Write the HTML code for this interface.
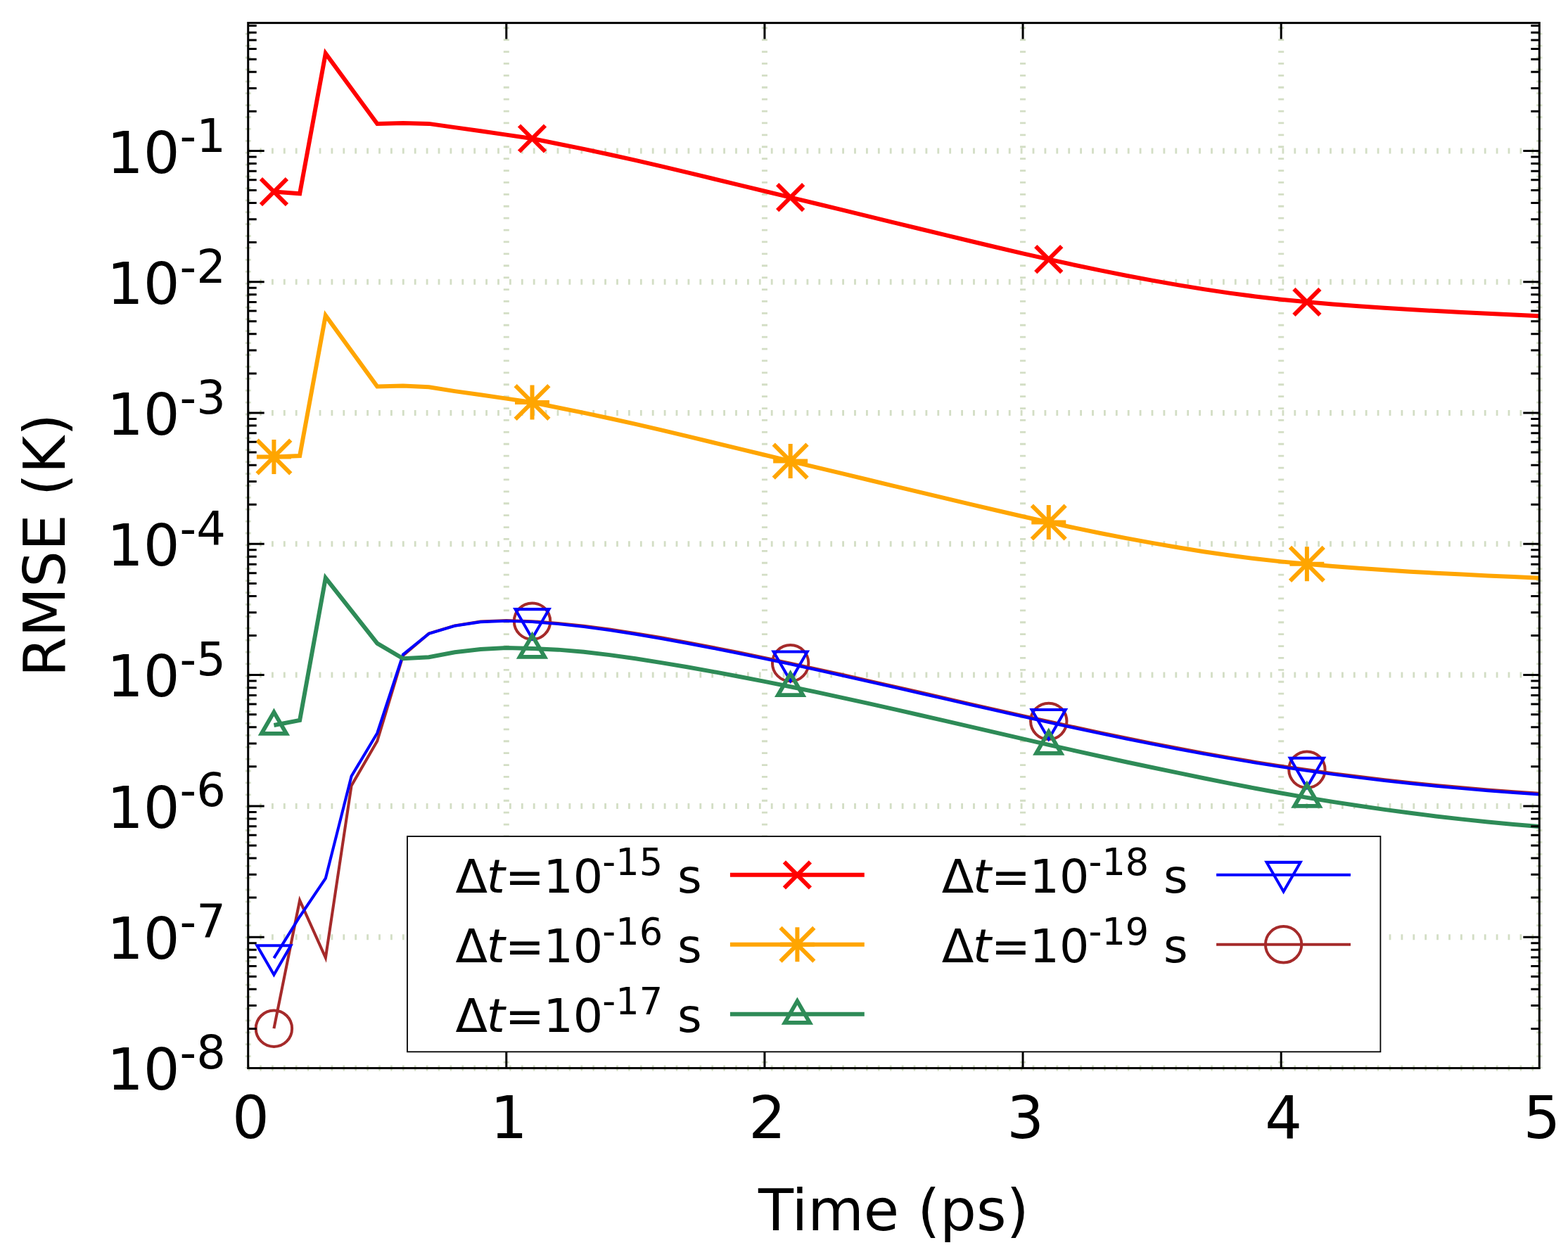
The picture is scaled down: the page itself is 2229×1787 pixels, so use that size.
<!DOCTYPE html><html><head><meta charset="utf-8"><title>RMSE vs Time</title><style>html,body{margin:0;padding:0;background:#fff;}svg{display:block;}text{font-family:"DejaVu Sans","Liberation Sans",sans-serif;fill:#000;}.it{font-style:italic;}</style></head><body>
<svg width="2229" height="1787" viewBox="0 0 2229 1787">
<rect width="2229" height="1787" fill="#fff"/>
<defs><clipPath id="ax"><rect x="352.7" y="32.6" width="1835.6" height="1485.9"/></clipPath></defs>
<g stroke="#d3dec5" stroke-width="8" fill="none" stroke-dasharray="2.8 14.1">
<path d="M352.7 1518.5H2188.3" stroke-dashoffset="0.5"/>
<path d="M352.7 1332.2H2188.3" stroke-dashoffset="0.5"/>
<path d="M352.7 1145.9H2188.3" stroke-dashoffset="0.5"/>
<path d="M352.7 959.6H2188.3" stroke-dashoffset="0.5"/>
<path d="M352.7 773.3H2188.3" stroke-dashoffset="0.5"/>
<path d="M352.7 587H2188.3" stroke-dashoffset="0.5"/>
<path d="M352.7 400.7H2188.3" stroke-dashoffset="0.5"/>
<path d="M352.7 214.4H2188.3" stroke-dashoffset="0.5"/>
<path d="M352.7 1518.5V32.6" stroke-dashoffset="1.4"/>
<path d="M719.82 1518.5V32.6" stroke-dashoffset="9.85"/>
<path d="M1086.94 1518.5V32.6" stroke-dashoffset="9.85"/>
<path d="M1454.06 1518.5V32.6" stroke-dashoffset="9.85"/>
<path d="M1821.18 1518.5V32.6" stroke-dashoffset="9.85"/>
<path d="M2188.3 1518.5V32.6" stroke-dashoffset="1.4"/>
</g>
<g clip-path="url(#ax)">
<polyline points="389.41,1462.2 426.12,1280 462.84,1361.5 499.55,1116.9 536.26,1053.5 572.97,932 609.68,900.64 646.4,889.38 683.11,883.62 719.82,882.06 756.53,883.2 793.24,886.01 829.96,889.85 866.67,894.64 903.38,900.2 940.09,906.33 976.8,913.02 1013.52,920.04 1050.23,927.35 1086.94,934.93 1123.65,942.73 1160.36,950.72 1197.08,958.87 1233.79,967.13 1270.5,975.47 1307.21,983.86 1343.92,992.27 1380.64,1000.65 1417.35,1008.98 1454.06,1017.23 1490.77,1025.37 1527.48,1033.37 1564.2,1041.2 1600.91,1048.83 1637.62,1056.23 1674.33,1063.36 1711.04,1070.2 1747.76,1076.73 1784.47,1082.9 1821.18,1088.7 1857.89,1094.12 1894.6,1099.18 1931.32,1103.89 1968.03,1108.26 2004.74,1112.29 2041.45,1116 2078.16,1119.4 2114.88,1122.49 2151.59,1125.29 2188.3,1127.8" fill="none" stroke="#a52a2a" stroke-width="4.1" stroke-linejoin="miter" stroke-miterlimit="10" stroke-linecap="butt"/>
<circle cx="389.41" cy="1462.2" r="25.7" stroke="#a52a2a" stroke-width="4" fill="none"/>
<circle cx="756.53" cy="883.2" r="25.7" stroke="#a52a2a" stroke-width="4" fill="none"/>
<circle cx="1123.65" cy="942.73" r="25.7" stroke="#a52a2a" stroke-width="4" fill="none"/>
<circle cx="1490.77" cy="1025.37" r="25.7" stroke="#a52a2a" stroke-width="4" fill="none"/>
<circle cx="1857.89" cy="1094.12" r="25.7" stroke="#a52a2a" stroke-width="4" fill="none"/>
<polyline points="389.41,1362.1 426.12,1303 462.84,1248.7 499.55,1103.5 536.26,1042.2 572.97,930.5 609.68,900.8 646.4,889.7 683.11,884.1 719.82,882.7 756.53,884 793.24,886.97 829.96,890.97 866.67,895.92 903.38,901.64 940.09,907.93 976.8,914.62 1013.52,921.64 1050.23,928.95 1086.94,936.53 1123.65,944.33 1160.36,952.32 1197.08,960.47 1233.79,968.73 1270.5,977.07 1307.21,985.46 1343.92,993.87 1380.64,1002.25 1417.35,1010.58 1454.06,1018.83 1490.77,1026.97 1527.48,1034.97 1564.2,1042.8 1600.91,1050.43 1637.62,1057.83 1674.33,1064.96 1711.04,1071.8 1747.76,1078.33 1784.47,1084.5 1821.18,1090.3 1857.89,1095.72 1894.6,1100.78 1931.32,1105.49 1968.03,1109.86 2004.74,1113.89 2041.45,1117.6 2078.16,1121 2114.88,1124.09 2151.59,1126.89 2188.3,1129.4" fill="none" stroke="#0000ff" stroke-width="4.1" stroke-linejoin="miter" stroke-miterlimit="10" stroke-linecap="butt"/>
<path d="M365.41 1344.2L413.41 1344.2L389.41 1385.8Z" stroke="#0000ff" stroke-width="4.06" fill="none" stroke-linejoin="miter" stroke-miterlimit="10"/>
<path d="M732.53 866.1L780.53 866.1L756.53 907.7Z" stroke="#0000ff" stroke-width="4.06" fill="none" stroke-linejoin="miter" stroke-miterlimit="10"/>
<path d="M1099.65 926.43L1147.65 926.43L1123.65 968.03Z" stroke="#0000ff" stroke-width="4.06" fill="none" stroke-linejoin="miter" stroke-miterlimit="10"/>
<path d="M1466.77 1009.07L1514.77 1009.07L1490.77 1050.67Z" stroke="#0000ff" stroke-width="4.06" fill="none" stroke-linejoin="miter" stroke-miterlimit="10"/>
<path d="M1833.89 1077.82L1881.89 1077.82L1857.89 1119.42Z" stroke="#0000ff" stroke-width="4.06" fill="none" stroke-linejoin="miter" stroke-miterlimit="10"/>
<polyline points="389.41,1031 426.12,1024 462.84,821.7 499.55,868.2 536.26,914.6 572.97,936.3 609.68,934.2 646.4,927.2 683.11,923 719.82,921 756.53,922 793.24,923.63 829.96,926.82 866.67,931.12 903.38,936.29 940.09,942.09 976.8,948.29 1013.52,954.84 1050.23,961.7 1086.94,968.85 1123.65,976.27 1160.36,983.93 1197.08,991.81 1233.79,999.88 1270.5,1008.12 1307.21,1016.48 1343.92,1024.93 1380.64,1033.43 1417.35,1041.94 1454.06,1050.42 1490.77,1058.82 1527.48,1067.11 1564.2,1075.25 1600.91,1083.21 1637.62,1090.98 1674.33,1098.68 1711.04,1106.26 1747.76,1113.63 1784.47,1120.73 1821.18,1127.49 1857.89,1133.88 1894.6,1139.91 1931.32,1145.58 1968.03,1150.88 2004.74,1155.83 2041.45,1160.41 2078.16,1164.62 2114.88,1168.48 2151.59,1171.96 2188.3,1175.09" fill="none" stroke="#2e8b57" stroke-width="6" stroke-linejoin="miter" stroke-miterlimit="10" stroke-linecap="butt"/>
<path d="M389.41 1012.35L371.71 1042.95L407.11 1042.95Z" stroke="#2e8b57" stroke-width="5.75" fill="none" stroke-linejoin="miter" stroke-miterlimit="10"/>
<path d="M756.53 903.35L738.83 933.95L774.23 933.95Z" stroke="#2e8b57" stroke-width="5.75" fill="none" stroke-linejoin="miter" stroke-miterlimit="10"/>
<path d="M1123.65 957.62L1105.95 988.22L1141.35 988.22Z" stroke="#2e8b57" stroke-width="5.75" fill="none" stroke-linejoin="miter" stroke-miterlimit="10"/>
<path d="M1490.77 1040.17L1473.07 1070.77L1508.47 1070.77Z" stroke="#2e8b57" stroke-width="5.75" fill="none" stroke-linejoin="miter" stroke-miterlimit="10"/>
<path d="M1857.89 1115.23L1840.19 1145.83L1875.59 1145.83Z" stroke="#2e8b57" stroke-width="5.75" fill="none" stroke-linejoin="miter" stroke-miterlimit="10"/>
<polyline points="389.41,649.5 426.12,648 462.84,448.4 499.55,498.9 536.26,549.4 572.97,548.6 609.68,550.2 646.4,556.1 683.11,561.2 719.82,566.6 756.53,572 793.24,579.47 829.96,586.86 866.67,594.7 903.38,602.92 940.09,611.42 976.8,620.13 1013.52,628.97 1050.23,637.84 1086.94,646.72 1123.65,655.61 1160.36,664.39 1197.08,673.18 1233.79,682 1270.5,690.82 1307.21,699.65 1343.92,708.44 1380.64,717.17 1417.35,725.78 1454.06,734.25 1490.77,742.48 1527.48,750.41 1564.2,757.98 1600.91,765.15 1637.62,771.92 1674.33,778.28 1711.04,784.2 1747.76,789.58 1784.47,794.32 1821.18,798.37 1857.89,801.86 1894.6,805.02 1931.32,807.84 1968.03,810.36 2004.74,812.64 2041.45,814.72 2078.16,816.62 2114.88,818.41 2151.59,820.1 2188.3,821.75" fill="none" stroke="#ffa500" stroke-width="6" stroke-linejoin="miter" stroke-miterlimit="10" stroke-linecap="butt"/>
<path d="M364.91 649.5L413.91 649.5M389.41 625L389.41 674M365.51 625.6L413.31 673.4M365.51 673.4L413.31 625.6" stroke="#ffa500" stroke-width="6" fill="none"/>
<path d="M732.03 572L781.03 572M756.53 547.5L756.53 596.5M732.63 548.1L780.43 595.9M732.63 595.9L780.43 548.1" stroke="#ffa500" stroke-width="6" fill="none"/>
<path d="M1099.15 655.61L1148.15 655.61M1123.65 631.11L1123.65 680.11M1099.75 631.71L1147.55 679.51M1099.75 679.51L1147.55 631.71" stroke="#ffa500" stroke-width="6" fill="none"/>
<path d="M1466.27 742.48L1515.27 742.48M1490.77 717.98L1490.77 766.98M1466.87 718.58L1514.67 766.38M1466.87 766.38L1514.67 718.58" stroke="#ffa500" stroke-width="6" fill="none"/>
<path d="M1833.39 801.86L1882.39 801.86M1857.89 777.36L1857.89 826.36M1833.99 777.96L1881.79 825.76M1833.99 825.76L1881.79 777.96" stroke="#ffa500" stroke-width="6" fill="none"/>
<polyline points="389.41,272.6 426.12,275.3 462.84,75.9 499.55,126 536.26,176 572.97,175.1 609.68,175.9 646.4,181.1 683.11,186.2 719.82,191.6 756.53,197 793.24,204.47 829.96,211.86 866.67,219.7 903.38,227.92 940.09,236.42 976.8,245.13 1013.52,253.97 1050.23,262.84 1086.94,271.72 1123.65,280.61 1160.36,289.51 1197.08,298.42 1233.79,307.36 1270.5,316.3 1307.21,325.25 1343.92,334.16 1380.64,343.01 1417.35,351.74 1454.06,360.33 1490.77,368.68 1527.48,376.73 1564.2,384.42 1600.91,391.71 1637.62,398.6 1674.33,405.08 1711.04,411.12 1747.76,416.62 1784.47,421.48 1821.18,425.65 1857.89,429.26 1894.6,432.42 1931.32,435.24 1968.03,437.76 2004.74,440.04 2041.45,442.12 2078.16,444.02 2114.88,445.81 2151.59,447.5 2188.3,449.15" fill="none" stroke="#ff0000" stroke-width="6" stroke-linejoin="miter" stroke-miterlimit="10" stroke-linecap="butt"/>
<path d="M370.91 254.1L407.91 291.1M370.91 291.1L407.91 254.1" stroke="#ff0000" stroke-width="6" fill="none"/>
<path d="M738.03 178.5L775.03 215.5M738.03 215.5L775.03 178.5" stroke="#ff0000" stroke-width="6" fill="none"/>
<path d="M1105.15 262.11L1142.15 299.11M1105.15 299.11L1142.15 262.11" stroke="#ff0000" stroke-width="6" fill="none"/>
<path d="M1472.27 350.18L1509.27 387.18M1472.27 387.18L1509.27 350.18" stroke="#ff0000" stroke-width="6" fill="none"/>
<path d="M1839.39 410.76L1876.39 447.76M1839.39 447.76L1876.39 410.76" stroke="#ff0000" stroke-width="6" fill="none"/>
</g>
<g stroke="#000" stroke-width="3" fill="none">
<path d="M719.82 1518.5V1495.5M719.82 32.6V55.6"/>
<path d="M1086.94 1518.5V1495.5M1086.94 32.6V55.6"/>
<path d="M1454.06 1518.5V1495.5M1454.06 32.6V55.6"/>
<path d="M1821.18 1518.5V1495.5M1821.18 32.6V55.6"/>
<path d="M352.7 1518.5H375.7M2188.3 1518.5H2165.3"/>
<path d="M352.7 1462.42H364.7M2188.3 1462.42H2176.3"/>
<path d="M352.7 1429.61H364.7M2188.3 1429.61H2176.3"/>
<path d="M352.7 1406.34H364.7M2188.3 1406.34H2176.3"/>
<path d="M352.7 1388.28H364.7M2188.3 1388.28H2176.3"/>
<path d="M352.7 1373.53H364.7M2188.3 1373.53H2176.3"/>
<path d="M352.7 1361.06H364.7M2188.3 1361.06H2176.3"/>
<path d="M352.7 1350.25H364.7M2188.3 1350.25H2176.3"/>
<path d="M352.7 1340.72H364.7M2188.3 1340.72H2176.3"/>
<path d="M352.7 1332.2H375.7M2188.3 1332.2H2165.3"/>
<path d="M352.7 1276.12H364.7M2188.3 1276.12H2176.3"/>
<path d="M352.7 1243.31H364.7M2188.3 1243.31H2176.3"/>
<path d="M352.7 1220.04H364.7M2188.3 1220.04H2176.3"/>
<path d="M352.7 1201.98H364.7M2188.3 1201.98H2176.3"/>
<path d="M352.7 1187.23H364.7M2188.3 1187.23H2176.3"/>
<path d="M352.7 1174.76H364.7M2188.3 1174.76H2176.3"/>
<path d="M352.7 1163.95H364.7M2188.3 1163.95H2176.3"/>
<path d="M352.7 1154.42H364.7M2188.3 1154.42H2176.3"/>
<path d="M352.7 1145.9H375.7M2188.3 1145.9H2165.3"/>
<path d="M352.7 1089.82H364.7M2188.3 1089.82H2176.3"/>
<path d="M352.7 1057.01H364.7M2188.3 1057.01H2176.3"/>
<path d="M352.7 1033.74H364.7M2188.3 1033.74H2176.3"/>
<path d="M352.7 1015.68H364.7M2188.3 1015.68H2176.3"/>
<path d="M352.7 1000.93H364.7M2188.3 1000.93H2176.3"/>
<path d="M352.7 988.46H364.7M2188.3 988.46H2176.3"/>
<path d="M352.7 977.65H364.7M2188.3 977.65H2176.3"/>
<path d="M352.7 968.12H364.7M2188.3 968.12H2176.3"/>
<path d="M352.7 959.6H375.7M2188.3 959.6H2165.3"/>
<path d="M352.7 903.52H364.7M2188.3 903.52H2176.3"/>
<path d="M352.7 870.71H364.7M2188.3 870.71H2176.3"/>
<path d="M352.7 847.44H364.7M2188.3 847.44H2176.3"/>
<path d="M352.7 829.38H364.7M2188.3 829.38H2176.3"/>
<path d="M352.7 814.63H364.7M2188.3 814.63H2176.3"/>
<path d="M352.7 802.16H364.7M2188.3 802.16H2176.3"/>
<path d="M352.7 791.35H364.7M2188.3 791.35H2176.3"/>
<path d="M352.7 781.82H364.7M2188.3 781.82H2176.3"/>
<path d="M352.7 773.3H375.7M2188.3 773.3H2165.3"/>
<path d="M352.7 717.22H364.7M2188.3 717.22H2176.3"/>
<path d="M352.7 684.41H364.7M2188.3 684.41H2176.3"/>
<path d="M352.7 661.14H364.7M2188.3 661.14H2176.3"/>
<path d="M352.7 643.08H364.7M2188.3 643.08H2176.3"/>
<path d="M352.7 628.33H364.7M2188.3 628.33H2176.3"/>
<path d="M352.7 615.86H364.7M2188.3 615.86H2176.3"/>
<path d="M352.7 605.05H364.7M2188.3 605.05H2176.3"/>
<path d="M352.7 595.52H364.7M2188.3 595.52H2176.3"/>
<path d="M352.7 587H375.7M2188.3 587H2165.3"/>
<path d="M352.7 530.92H364.7M2188.3 530.92H2176.3"/>
<path d="M352.7 498.11H364.7M2188.3 498.11H2176.3"/>
<path d="M352.7 474.84H364.7M2188.3 474.84H2176.3"/>
<path d="M352.7 456.78H364.7M2188.3 456.78H2176.3"/>
<path d="M352.7 442.03H364.7M2188.3 442.03H2176.3"/>
<path d="M352.7 429.56H364.7M2188.3 429.56H2176.3"/>
<path d="M352.7 418.75H364.7M2188.3 418.75H2176.3"/>
<path d="M352.7 409.22H364.7M2188.3 409.22H2176.3"/>
<path d="M352.7 400.7H375.7M2188.3 400.7H2165.3"/>
<path d="M352.7 344.62H364.7M2188.3 344.62H2176.3"/>
<path d="M352.7 311.81H364.7M2188.3 311.81H2176.3"/>
<path d="M352.7 288.54H364.7M2188.3 288.54H2176.3"/>
<path d="M352.7 270.48H364.7M2188.3 270.48H2176.3"/>
<path d="M352.7 255.73H364.7M2188.3 255.73H2176.3"/>
<path d="M352.7 243.26H364.7M2188.3 243.26H2176.3"/>
<path d="M352.7 232.45H364.7M2188.3 232.45H2176.3"/>
<path d="M352.7 222.92H364.7M2188.3 222.92H2176.3"/>
<path d="M352.7 214.4H375.7M2188.3 214.4H2165.3"/>
<path d="M352.7 158.32H364.7M2188.3 158.32H2176.3"/>
<path d="M352.7 125.51H364.7M2188.3 125.51H2176.3"/>
<path d="M352.7 102.24H364.7M2188.3 102.24H2176.3"/>
<path d="M352.7 84.18H364.7M2188.3 84.18H2176.3"/>
<path d="M352.7 69.43H364.7M2188.3 69.43H2176.3"/>
<path d="M352.7 56.96H364.7M2188.3 56.96H2176.3"/>
<path d="M352.7 46.15H364.7M2188.3 46.15H2176.3"/>
<path d="M352.7 36.62H364.7M2188.3 36.62H2176.3"/>
</g>
<rect x="352.7" y="32.6" width="1835.6" height="1485.9" fill="none" stroke="#000" stroke-width="3"/>
<text x="151.89" y="1548.9" font-size="81.5">10</text>
<text x="255.6" y="1518.7" font-size="65.5">-8</text>
<text x="151.89" y="1362.76" font-size="81.5">10</text>
<text x="255.6" y="1332.56" font-size="65.5">-7</text>
<text x="151.89" y="1176.61" font-size="81.5">10</text>
<text x="255.6" y="1146.41" font-size="65.5">-6</text>
<text x="151.89" y="990.47" font-size="81.5">10</text>
<text x="255.6" y="960.27" font-size="65.5">-5</text>
<text x="151.89" y="804.33" font-size="81.5">10</text>
<text x="255.6" y="774.13" font-size="65.5">-4</text>
<text x="151.89" y="618.19" font-size="81.5">10</text>
<text x="255.6" y="587.99" font-size="65.5">-3</text>
<text x="151.89" y="432.04" font-size="81.5">10</text>
<text x="255.6" y="401.84" font-size="65.5">-2</text>
<text x="151.89" y="245.9" font-size="81.5">10</text>
<text x="255.6" y="215.7" font-size="65.5">-1</text>
<text x="356.3" y="1618.3" font-size="83" text-anchor="middle">0</text>
<text x="723.42" y="1618.3" font-size="83" text-anchor="middle">1</text>
<text x="1090.54" y="1618.3" font-size="83" text-anchor="middle">2</text>
<text x="1457.66" y="1618.3" font-size="83" text-anchor="middle">3</text>
<text x="1824.78" y="1618.3" font-size="83" text-anchor="middle">4</text>
<text x="2191.9" y="1618.3" font-size="83" text-anchor="middle">5</text>
<text x="1078" y="1749.1" font-size="81.8">Time (ps)</text>
<text transform="translate(91.8 962.3) rotate(-90)" x="0" y="0" font-size="81.8">RMSE (K)</text>
<rect x="579" y="1189" width="1383.4" height="306.3" fill="#fff" stroke="#000" stroke-width="1.8"/>
<text x="647.6" y="1269" font-size="66.67">&#916;</text>
<text class="it" x="691.7" y="1269" font-size="66.67">t</text>
<text x="717.9" y="1269" font-size="66.67">=</text>
<text x="772.4" y="1269" font-size="66.67">10</text>
<text x="856.3" y="1244" font-size="52.5">-15</text>
<text x="962.9" y="1269" font-size="66.67">s</text>
<path d="M1037.9 1243.8H1228.8" stroke="#ff0000" stroke-width="6"/>
<path d="M1114.9 1225.3L1151.9 1262.3M1114.9 1262.3L1151.9 1225.3" stroke="#ff0000" stroke-width="6" fill="none"/>
<text x="647.6" y="1368" font-size="66.67">&#916;</text>
<text class="it" x="691.7" y="1368" font-size="66.67">t</text>
<text x="717.9" y="1368" font-size="66.67">=</text>
<text x="772.4" y="1368" font-size="66.67">10</text>
<text x="856.3" y="1343" font-size="52.5">-16</text>
<text x="962.9" y="1368" font-size="66.67">s</text>
<path d="M1037.9 1342.8H1228.8" stroke="#ffa500" stroke-width="6"/>
<path d="M1108.9 1342.8L1157.9 1342.8M1133.4 1318.3L1133.4 1367.3M1109.5 1318.9L1157.3 1366.7M1109.5 1366.7L1157.3 1318.9" stroke="#ffa500" stroke-width="6" fill="none"/>
<text x="647.6" y="1467" font-size="66.67">&#916;</text>
<text class="it" x="691.7" y="1467" font-size="66.67">t</text>
<text x="717.9" y="1467" font-size="66.67">=</text>
<text x="772.4" y="1467" font-size="66.67">10</text>
<text x="856.3" y="1442" font-size="52.5">-17</text>
<text x="962.9" y="1467" font-size="66.67">s</text>
<path d="M1037.9 1441.8H1228.8" stroke="#2e8b57" stroke-width="6"/>
<path d="M1133.4 1423.15L1115.7 1453.75L1151.1 1453.75Z" stroke="#2e8b57" stroke-width="5.75" fill="none" stroke-linejoin="miter" stroke-miterlimit="10"/>
<text x="1338.8" y="1269" font-size="66.67">&#916;</text>
<text class="it" x="1382.9" y="1269" font-size="66.67">t</text>
<text x="1409.1" y="1269" font-size="66.67">=</text>
<text x="1463.6" y="1269" font-size="66.67">10</text>
<text x="1547.5" y="1244" font-size="52.5">-18</text>
<text x="1654.1" y="1269" font-size="66.67">s</text>
<path d="M1729.1 1243.8H1920" stroke="#0000ff" stroke-width="4.1"/>
<path d="M1800.6 1225.9L1848.6 1225.9L1824.6 1267.5Z" stroke="#0000ff" stroke-width="4.06" fill="none" stroke-linejoin="miter" stroke-miterlimit="10"/>
<text x="1338.8" y="1368" font-size="66.67">&#916;</text>
<text class="it" x="1382.9" y="1368" font-size="66.67">t</text>
<text x="1409.1" y="1368" font-size="66.67">=</text>
<text x="1463.6" y="1368" font-size="66.67">10</text>
<text x="1547.5" y="1343" font-size="52.5">-19</text>
<text x="1654.1" y="1368" font-size="66.67">s</text>
<path d="M1729.1 1342.8H1920" stroke="#a52a2a" stroke-width="4.1"/>
<circle cx="1824.6" cy="1342.8" r="25.7" stroke="#a52a2a" stroke-width="4" fill="none"/>
</svg></body></html>
